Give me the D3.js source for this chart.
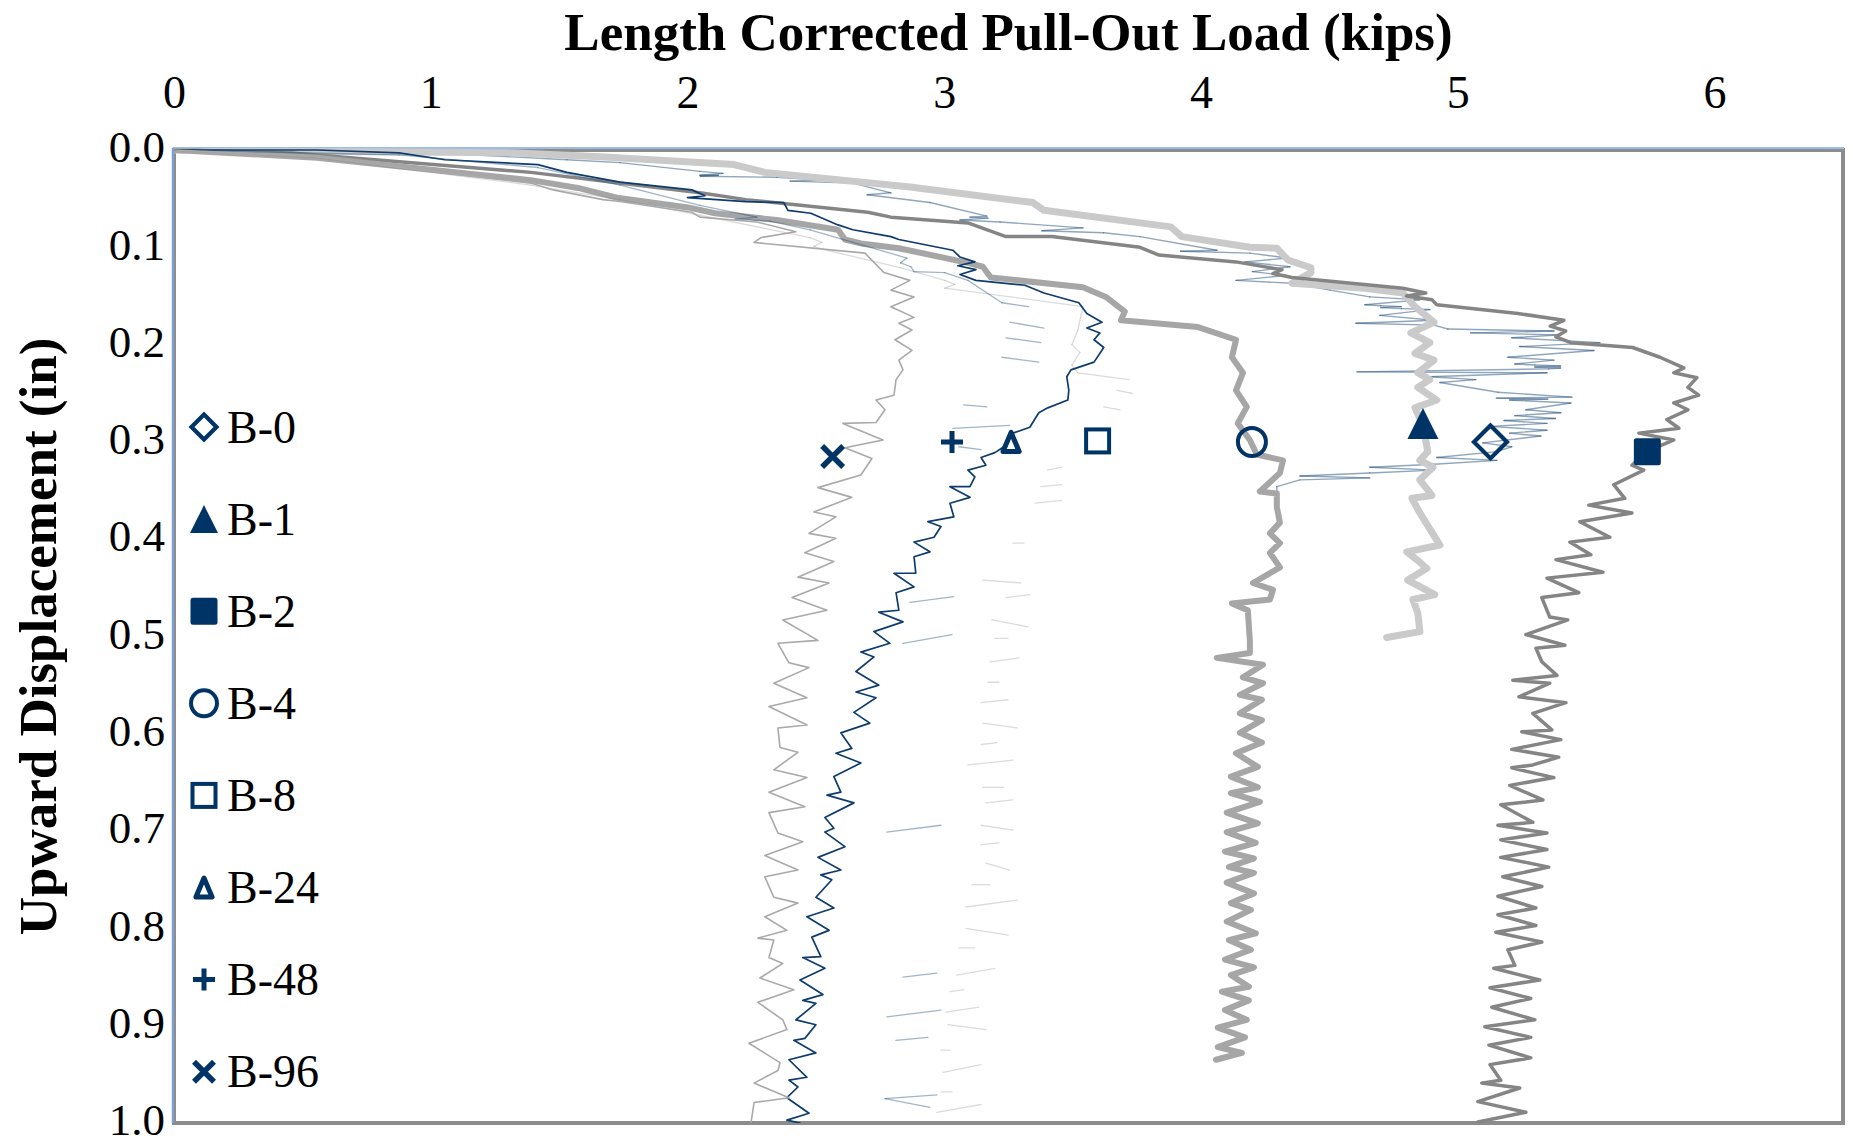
<!DOCTYPE html>
<html>
<head>
<meta charset="utf-8">
<script src="https://cdn.jsdelivr.net/npm/d3@7/dist/d3.min.js"></script>
<style>
  html, body { margin: 0; padding: 0; background: #ffffff; }
  svg { display: block; }
  text { font-family: "Liberation Serif", "Times New Roman", serif; fill: #000; }
</style>
</head>
<body>
<svg id="chart" width="1853" height="1145"></svg>
<script>
// ---- data: [load (kips), upward displacement (in)]; null marks a break in the record ----
const xTicks = [0, 1, 2, 3, 4, 5, 6];
const yTicks = [0, 0.1, 0.2, 0.3, 0.4, 0.5, 0.6, 0.7, 0.8, 0.9, 1.0];
const seriesNames = ["B-0", "B-1", "B-2", "B-4", "B-8", "B-24", "B-48", "B-96"];

const b0 = [[0,0],[0.88,0.001],[1.53,0.010],[1.737,0.013],[2.048,0.022],[2.138,0.024],[2.048,0.026],[2.12,0.026],
  [2.05,0.027],[2.348,0.028],[2.52,0.031],[2.40,0.032],[2.644,0.034],[2.792,0.044],[2.70,0.046],[2.944,0.054],
  [3.166,0.068],[3.10,0.069],[3.17,0.070],[3.061,0.072],[3.217,0.074],[3.54,0.080],[3.38,0.083],[3.62,0.085],
  [3.762,0.089],[4.062,0.103],[3.92,0.104],[4.19,0.106],[4.338,0.111],[4.171,0.115],[4.346,0.120],[4.20,0.125],
  [4.33,0.129],[4.136,0.134],[4.357,0.137],[4.502,0.144],[4.657,0.151],[4.852,0.154],[4.638,0.159],[4.70,0.160],
  [4.78,0.161],[4.70,0.162],[4.78,0.163],[4.891,0.164],[4.696,0.170],[4.907,0.175],[4.603,0.178],[4.907,0.180],
  [4.961,0.184],[5.374,0.186],[5.05,0.188],[5.40,0.190],[5.21,0.193],[5.553,0.198],[5.241,0.202],[5.53,0.206],
  [5.195,0.213],[5.374,0.216],[5.222,0.220],[5.30,0.221],[5.40,0.222],[5.30,0.223],[5.40,0.224],[5.354,0.225],
  [4.607,0.228],[5.347,0.229],[4.891,0.233],[5.07,0.236],[4.93,0.239],[5.156,0.249],[5.444,0.254],[5.15,0.255],
  [5.35,0.256],[5.202,0.257],[5.44,0.260],[5.265,0.267],[5.401,0.270],[5.222,0.273],[5.38,0.276],[5.18,0.278],
  [5.347,0.281],[5.125,0.284],[5.347,0.288],[5.202,0.291],[5.323,0.294],[5.097,0.301],[5.21,0.305],[5.152,0.310],
  [4.918,0.316],[5.152,0.319],[4.907,0.323],[4.657,0.326],[4.907,0.329],[4.657,0.332],[4.385,0.335],[4.657,0.337],
  [4.385,0.339],[4.295,0.346],[4.295,0.353]];

const b1 = [[0,0],[0.30,0.001],[1.336,0.003],[1.659,0.007],[2.181,0.015],[2.301,0.023],[2.866,0.038],[3.345,0.054],
  [3.388,0.062],[3.882,0.079],[3.925,0.089],[4.190,0.100],[4.295,0.101],[4.338,0.113],[4.428,0.121],[4.428,0.126],
  [4.354,0.137],[4.638,0.142],[4.786,0.147],[4.833,0.161],[4.907,0.177],[4.817,0.188],[4.891,0.198],[4.833,0.209],
  [4.907,0.216],[4.844,0.229],[4.891,0.236],[4.844,0.244],[4.918,0.257],[4.833,0.265],[4.864,0.283],[4.883,0.310],
  [4.852,0.319],[4.903,0.326],[4.852,0.339],[4.899,0.355],[4.821,0.358],[4.852,0.373],[4.930,0.406],[4.801,0.413],
  [4.840,0.421],[4.879,0.430],[4.805,0.442],[4.910,0.457],[4.825,0.462],[4.844,0.476],[4.852,0.495],[4.723,0.501]];

const b2 = [[0,0],[0.459,0.003],[1.390,0.023],[2.048,0.044],[2.227,0.051],[2.702,0.064],[2.792,0.069],[3.092,0.075],
  [3.240,0.089],[3.419,0.089],[3.762,0.100],[3.836,0.108],[4.136,0.115],[4.315,0.123],[4.28,0.127],[4.354,0.131],
  [4.786,0.142],[4.875,0.147],[4.80,0.150],[4.90,0.154],[4.918,0.159],[5.234,0.168],[5.413,0.175],[5.36,0.181],
  [5.42,0.186],[5.382,0.192],[5.440,0.198],[5.681,0.203],[5.787,0.213],[5.880,0.224],[5.841,0.229],[5.931,0.234],
  [5.896,0.244],[5.938,0.252],[5.841,0.260],[5.896,0.267],[5.814,0.277],[5.861,0.286],[5.705,0.291],[5.841,0.298],
  [5.736,0.310],[5.678,0.324],[5.724,0.329],[5.607,0.344],[5.650,0.358],[5.510,0.365],[5.678,0.373],[5.475,0.382],
  [5.592,0.398],[5.436,0.403],[5.518,0.416],[5.382,0.421],[5.565,0.434],[5.347,0.440],[5.471,0.455],[5.327,0.460],
  [5.358,0.480],[5.428,0.483],[5.265,0.498],[5.417,0.509],[5.304,0.512],[5.327,0.526],[5.386,0.540],[5.214,0.545],
  [5.358,0.548],[5.238,0.562],[5.421,0.568],[5.292,0.579],[5.366,0.596],[5.249,0.598],[5.401,0.606],[5.210,0.616],
  [5.393,0.624],[5.292,0.632],[5.210,0.635],[5.374,0.645],[5.202,0.653],[5.331,0.668],[5.167,0.673],[5.292,0.691],
  [5.156,0.694],[5.347,0.702],[5.167,0.709],[5.347,0.719],[5.167,0.727],[5.354,0.737],[5.175,0.747],[5.327,0.757],
  [5.156,0.767],[5.304,0.779],[5.156,0.786],[5.304,0.797],[5.148,0.804],[5.327,0.814],[5.195,0.822],[5.222,0.838],
  [5.140,0.841],[5.319,0.853],[5.125,0.861],[5.284,0.872],[5.132,0.881],[5.300,0.894],[5.105,0.901],[5.284,0.912],
  [5.121,0.920],[5.284,0.933],[5.125,0.940],[5.167,0.956],[5.093,0.959],[5.241,0.964],[5.078,0.978],[5.265,0.989],
  [5.078,0.999]];

const b4 = [[0,0],[0.557,0.008],[1.390,0.031],[1.573,0.039],[1.725,0.049],[2.002,0.059],[2.107,0.065],[2.348,0.072],
  [2.586,0.082],[2.613,0.092],[2.675,0.096],[2.823,0.101],[3.092,0.116],[3.150,0.120],[3.181,0.131],[3.540,0.141],
  [3.629,0.151],[3.703,0.166],[3.688,0.175],[3.988,0.182],[4.136,0.195],[4.120,0.213],[4.163,0.229],[4.136,0.247],
  [4.178,0.264],[4.143,0.281],[4.190,0.298],[4.217,0.313],[4.319,0.319],[4.307,0.332],[4.229,0.351],[4.295,0.353],
  [4.295,0.367],[4.307,0.383],[4.268,0.394],[4.307,0.404],[4.268,0.414],[4.307,0.429],[4.202,0.445],[4.280,0.452],
  [4.268,0.462],[4.120,0.466],[4.182,0.473],[4.190,0.504],[4.190,0.517],[4.061,0.522],[4.241,0.529],[4.163,0.542],
  [4.241,0.548],[4.151,0.560],[4.237,0.565],[4.151,0.579],[4.237,0.586],[4.151,0.599],[4.237,0.609],[4.136,0.620],
  [4.221,0.634],[4.116,0.644],[4.221,0.655],[4.116,0.661],[4.229,0.670],[4.100,0.681],[4.221,0.692],[4.100,0.701],
  [4.213,0.712],[4.093,0.721],[4.206,0.728],[4.108,0.737],[4.206,0.743],[4.100,0.753],[4.206,0.764],[4.116,0.774],
  [4.194,0.781],[4.100,0.793],[4.213,0.805],[4.108,0.812],[4.194,0.822],[4.093,0.832],[4.206,0.840],[4.116,0.848],
  [4.186,0.860],[4.081,0.865],[4.186,0.874],[4.093,0.884],[4.178,0.894],[4.065,0.902],[4.171,0.912],[4.065,0.922],
  [4.159,0.928],[4.058,0.935]];

const b8 = [[0,0],[0.557,0.008],[1.39,0.036],[1.737,0.051],[2.048,0.067],[2.477,0.090],[2.523,0.095],[2.492,0.099],
  [2.527,0.102],[2.827,0.121],[3.002,0.134],[3.041,0.138],[3.002,0.142],[3.54,0.161],[3.52,0.185],[3.497,0.200],
  [3.528,0.208],[3.497,0.221],[3.52,0.229],[3.719,0.236],
  null,[3.672,0.247],[3.731,0.250], null,[3.621,0.264],[3.684,0.267], null,[3.458,0.326],[3.403,0.329],
  null,[3.458,0.344],[3.376,0.346], null,[3.458,0.360],[3.353,0.363], null,[3.31,0.404],[3.267,0.404],
  null,[3.15,0.442],[3.298,0.445], null,[3.333,0.457],[3.24,0.460], null,[3.185,0.483],[3.326,0.490],
  null,[3.248,0.502],[3.197,0.502], null,[3.291,0.522],[3.178,0.526], null,[3.213,0.547],[3.17,0.547],
  null,[3.248,0.565],[3.143,0.568], null,[3.15,0.589],[3.283,0.594], null,[3.205,0.609],[3.143,0.611],
  null,[3.267,0.627],[3.092,0.632], null,[3.15,0.655],[3.232,0.655], null,[3.267,0.668],[3.162,0.671],
  null,[3.143,0.694],[3.267,0.699], null,[3.213,0.712],[3.143,0.714], null,[3.162,0.733],[3.255,0.740],
  null,[3.178,0.755],[3.107,0.755], null,[3.283,0.771],[3.084,0.778], null,[3.084,0.800],[3.248,0.807],
  null,[3.119,0.820],[3.057,0.820], null,[3.197,0.841],[3.049,0.848], null,[3.076,0.863],[3.022,0.865],
  null,[3.135,0.881],[3.006,0.886], null,[3.014,0.899],[3.162,0.904], null,[3.022,0.925],[2.987,0.925],
  null,[3.143,0.940],[2.995,0.948], null,[3.03,0.968],[2.987,0.968], null,[3.143,0.981],[2.971,0.989]];

const b24 = [[0,0],[0.557,0.000],[0.876,0.003],[1.055,0.010],[1.417,0.015],[1.530,0.023],[1.737,0.033],[2.017,0.041],
  [2.068,0.047],[2.00,0.049],[2.227,0.053],[2.375,0.054],[2.391,0.062],[2.480,0.065],[2.586,0.077],[2.644,0.082],
  [2.792,0.089],[2.823,0.092],[3.033,0.103],[3.061,0.110],[3.119,0.115],[3.053,0.119],[3.123,0.123],[3.061,0.128],
  [3.123,0.134],[3.314,0.139],[3.388,0.147],[3.524,0.157],[3.555,0.168],[3.614,0.177],[3.555,0.183],[3.606,0.188],
  [3.583,0.195],[3.621,0.203],[3.583,0.218],[3.493,0.226],[3.477,0.233],[3.485,0.247],[3.481,0.257],[3.403,0.265],
  [3.368,0.270],[3.333,0.285],[3.267,0.291],[3.232,0.305],[3.197,0.311],[3.143,0.316],[3.162,0.324],[3.092,0.329],
  [3.119,0.336],[3.100,0.346],[3.022,0.346],[3.100,0.357],[3.022,0.363],[3.037,0.377],[2.936,0.382],[2.987,0.387],
  [2.960,0.398],[2.882,0.403],[2.944,0.413],[2.882,0.418],[2.889,0.435],[2.804,0.435],[2.882,0.449],[2.812,0.455],
  [2.823,0.473],[2.745,0.475],[2.839,0.485],[2.726,0.495],[2.788,0.507],[2.675,0.516],[2.726,0.521],[2.656,0.536],
  [2.745,0.550],[2.656,0.557],[2.734,0.563],[2.648,0.578],[2.710,0.589],[2.597,0.599],[2.640,0.615],[2.578,0.620],
  [2.675,0.630],[2.570,0.644],[2.597,0.660],[2.543,0.663],[2.648,0.671],[2.535,0.686],[2.570,0.697],[2.535,0.701],
  [2.613,0.716],[2.508,0.727],[2.597,0.740],[2.519,0.745],[2.562,0.750],[2.500,0.768],[2.570,0.779],[2.465,0.788],
  [2.551,0.802],[2.484,0.809],[2.519,0.829],[2.449,0.830],[2.535,0.841],[2.438,0.853],[2.527,0.868],[2.449,0.874],
  [2.500,0.877],[2.422,0.894],[2.500,0.899],[2.457,0.913],[2.414,0.915],[2.500,0.928],[2.395,0.935],[2.465,0.953],
  [2.395,0.956],[2.430,0.963],[2.387,0.974],[2.473,0.990],[2.387,0.997],[2.438,1.000]];

const b48 = [[0,0],[0.876,0.005],[1.417,0.018],[1.737,0.036],[2.048,0.057],[2.27,0.069],[2.185,0.071],[2.321,0.073],
  [2.477,0.082],[2.854,0.111],[2.83,0.116],[2.87,0.120],[2.882,0.125],[3.002,0.126],[3.092,0.134],[3.224,0.157],
  [3.329,0.161], null,[3.255,0.177],[3.388,0.183], null,[3.24,0.193],[3.376,0.198], null,[3.224,0.213],[3.368,0.218],
  null,[3.076,0.262],[3.166,0.264], null,[3.255,0.283],[3.033,0.286], null,[3.057,0.305],[3.143,0.308],
  null,[3.037,0.459],[2.866,0.465], null,[3.03,0.498],[2.839,0.507], null,[2.987,0.694],[2.776,0.701],
  null,[2.971,0.846],[2.839,0.850], null,[2.987,0.884],[2.776,0.891], null,[2.936,0.912],[2.811,0.915],
  null,[2.971,0.971],[2.769,0.975],[2.944,0.984]];

const b96 = [[0,0],[0.557,0.007],[0.974,0.021],[1.390,0.034],[1.476,0.041],[1.671,0.051],[1.737,0.053],[2.017,0.064],
  [2.048,0.069],[2.270,0.074],[2.422,0.084],[2.286,0.090],[2.259,0.095],[2.691,0.106],[2.765,0.126],[2.866,0.134],
  [2.792,0.144],[2.882,0.151],[2.792,0.161],[2.882,0.172],[2.823,0.178],[2.874,0.185],[2.808,0.195],[2.874,0.206],
  [2.823,0.216],[2.839,0.226],[2.812,0.236],[2.804,0.252],[2.734,0.257],[2.769,0.267],[2.734,0.280],[2.605,0.281],
  [2.761,0.298],[2.613,0.306],[2.718,0.317],[2.675,0.334],[2.508,0.347],[2.640,0.357],[2.492,0.372],[2.578,0.377],
  [2.473,0.394],[2.578,0.399],[2.457,0.414],[2.570,0.423],[2.430,0.439],[2.551,0.445],[2.407,0.460],[2.543,0.473],
  [2.371,0.483],[2.508,0.504],[2.352,0.507],[2.395,0.527],[2.473,0.532],[2.336,0.548],[2.465,0.563],[2.317,0.572],
  [2.465,0.591],[2.352,0.594],[2.360,0.614],[2.430,0.619],[2.336,0.637],[2.465,0.645],[2.317,0.660],[2.457,0.675],
  [2.317,0.681],[2.352,0.702],[2.449,0.711],[2.301,0.725],[2.430,0.740],[2.301,0.747],[2.336,0.768],[2.430,0.774],
  [2.301,0.788],[2.387,0.802],[2.274,0.810],[2.336,0.812],[2.317,0.830],[2.371,0.836],[2.282,0.851],[2.414,0.863],
  [2.274,0.876],[2.371,0.894],[2.387,0.904],[2.239,0.918],[2.360,0.938],[2.352,0.946],[2.259,0.959],[2.395,0.974],
  [2.259,0.979],[2.247,1.000]];

// single labelled marker per specimen
const markerLoad = [5.127, 4.864, 5.738, 4.198, 3.597, 3.260, 3.030, 2.565];
const markerDisp = [0.300, 0.281, 0.310, 0.300, 0.299, 0.300, 0.300, 0.315];

// ---- layout & styling ----
const W = 1853, H = 1145;
const plot = { left: 174, top: 150, right: 1843, bottom: 1123 };
const navy = "#003366";

const x = d3.scaleLinear().domain([0, 6.5]).range([plot.left, plot.right]);
const y = d3.scaleLinear().domain([0, 1]).range([plot.top, plot.bottom]);

const svg = d3.select("#chart");
svg.append("rect").attr("width", W).attr("height", H).attr("fill", "#fff");

svg.append("defs").append("clipPath").attr("id", "plotClip")
  .append("rect").attr("x", plot.left).attr("y", plot.top - 2)
  .attr("width", plot.right - plot.left).attr("height", plot.bottom - plot.top + 2);

// plot frame
svg.append("rect")
  .attr("x", plot.left).attr("y", plot.top)
  .attr("width", plot.right - plot.left).attr("height", plot.bottom - plot.top)
  .attr("fill", "none").attr("stroke", "#8c8c8c").attr("stroke-width", 4);
svg.append("line").attr("x1", plot.left - 1).attr("x2", plot.right + 1)
  .attr("y1", plot.top - 2).attr("y2", plot.top - 2)
  .attr("stroke", "#9dbde6").attr("stroke-width", 2);
svg.append("line").attr("x1", plot.left - 1).attr("x2", plot.left - 1)
  .attr("y1", plot.top - 2).attr("y2", plot.bottom)
  .attr("stroke", "#7d9fcf").attr("stroke-width", 2.5);

// axes
const xAxis = d3.axisTop(x).tickValues(xTicks).tickSize(0).tickPadding(42).tickFormat(d3.format("d"));
const gx = svg.append("g").attr("transform", `translate(0,${plot.top})`).call(xAxis);
gx.select(".domain").remove();
gx.selectAll("text").attr("font-size", 46).attr("font-family", "Liberation Serif").attr("fill", "#000");

const yAxis = d3.axisLeft(y).tickValues(yTicks).tickSize(0).tickPadding(9).tickFormat(d3.format(".1f"));
const gy = svg.append("g").attr("transform", `translate(${plot.left},0)`).call(yAxis);
gy.select(".domain").remove();
gy.selectAll("text").attr("font-size", 45).attr("font-family", "Liberation Serif").attr("fill", "#000")
  .attr("dy", "0.26em");

// axis titles
svg.append("text").attr("x", (plot.left + plot.right) / 2).attr("y", 50)
  .attr("text-anchor", "middle").attr("font-size", 53).attr("font-weight", "bold")
  .text("Length Corrected Pull-Out Load (kips)");
svg.append("text").attr("transform", `translate(56,${(plot.top + plot.bottom) / 2}) rotate(-90)`)
  .attr("text-anchor", "middle").attr("font-size", 53).attr("font-weight", "bold")
  .text("Upward Displacement (in)");

// curves
const gLines = svg.append("g").attr("clip-path", "url(#plotClip)");
const line = d3.line().defined(d => d != null).x(d => x(d[0])).y(d => y(d[1]));

function segmentsOf(pts) {
  const s = [];
  for (let i = 1; i < pts.length; i++) if (pts[i - 1] && pts[i]) s.push([pts[i - 1], pts[i]]);
  return s;
}
// jittery records drawn as separate translucent strokes, so dense bursts read darker
function drawSegments(pts, color, opacity, width) {
  gLines.append("g").selectAll("line").data(segmentsOf(pts)).join("line")
    .attr("x1", d => x(d[0][0])).attr("y1", d => y(d[0][1]))
    .attr("x2", d => x(d[1][0])).attr("y2", d => y(d[1][1]))
    .attr("stroke", color).attr("stroke-opacity", opacity).attr("stroke-width", width)
    .attr("stroke-linecap", "round");
}
function drawPath(pts, color, width) {
  gLines.append("path").datum(pts).attr("d", line)
    .attr("fill", "none").attr("stroke", color).attr("stroke-width", width)
    .attr("stroke-linejoin", "round").attr("stroke-linecap", "round");
}

drawSegments(b0, "#1f4e79", 0.5, 1.4);
drawPath(b1, "#cacaca", 7);
drawPath(b2, "#858585", 3.5);
drawPath(b4, "#a6a6a6", 6);
drawSegments(b8, "#7f7f7f", 0.28, 1.3);
drawPath(b24, "#0d3b6e", 1.7);
drawSegments(b48, "#1f4e79", 0.42, 1.3);
drawPath(b96, "#a9a9a9", 1.6);

// marker shapes, sized by overall extent s
function drawMarker(g, kind, cx, cy, s) {
  const h = s / 2;
  const t = g.append("g").attr("transform", `translate(${cx},${cy})`);
  if (kind === "diamond") {
    t.append("path").attr("d", `M0,${-h + 2.5}L${h - 2.5},0L0,${h - 2.5}L${-h + 2.5},0Z`)
      .attr("fill", "none").attr("stroke", navy).attr("stroke-width", 4.2).attr("stroke-linejoin", "miter");
  } else if (kind === "triangleFilled") {
    t.append("path").attr("d", `M0,${-h}L${h},${h}L${-h},${h}Z`).attr("fill", navy);
  } else if (kind === "squareFilled") {
    t.append("rect").attr("x", -h).attr("y", -h).attr("width", s).attr("height", s)
      .attr("rx", 2.5).attr("fill", navy);
  } else if (kind === "circle") {
    t.append("circle").attr("r", h - 2).attr("fill", "none").attr("stroke", navy).attr("stroke-width", 4);
  } else if (kind === "square") {
    t.append("rect").attr("x", -h + 2).attr("y", -h + 2).attr("width", s - 4).attr("height", s - 4)
      .attr("fill", "none").attr("stroke", navy).attr("stroke-width", 4);
  } else if (kind === "triangle") {
    const k = h - 3;
    t.append("path").attr("d", `M0,${-k}L${k * 0.85},${k}L${-k * 0.85},${k}Z`)
      .attr("fill", "none").attr("stroke", navy).attr("stroke-width", 5).attr("stroke-linejoin", "round");
  } else if (kind === "plus") {
    t.append("path").attr("d", `M${-h},0L${h},0M0,${-h}L0,${h}`)
      .attr("stroke", navy).attr("stroke-width", 5);
  } else if (kind === "cross") {
    t.append("path").attr("d", `M${-h + 2},${-h + 2}L${h - 2},${h - 2}M${h - 2},${-h + 2}L${-h + 2},${h - 2}`)
      .attr("stroke", navy).attr("stroke-width", 5.5);
  }
}
const markerKinds = ["diamond", "triangleFilled", "squareFilled", "circle", "square", "triangle", "plus", "cross"];
const plotMarkerSize = [38, 31, 27, 32, 27, 25, 22, 25];
const legendMarkerSize = [30, 28, 27, 30, 27, 25, 22, 24];

const gMarks = svg.append("g");
seriesNames.forEach((name, i) => {
  drawMarker(gMarks, markerKinds[i], x(markerLoad[i]), y(markerDisp[i]), plotMarkerSize[i]);
});

// legend
const legend = svg.append("g");
seriesNames.forEach((name, i) => {
  const cy = 427 + i * 92.1;
  drawMarker(legend, markerKinds[i], 204, cy, legendMarkerSize[i]);
  legend.append("text").attr("x", 227).attr("y", cy + 15.5)
    .attr("font-size", 46).text(name);
});
</script>
</body>
</html>
